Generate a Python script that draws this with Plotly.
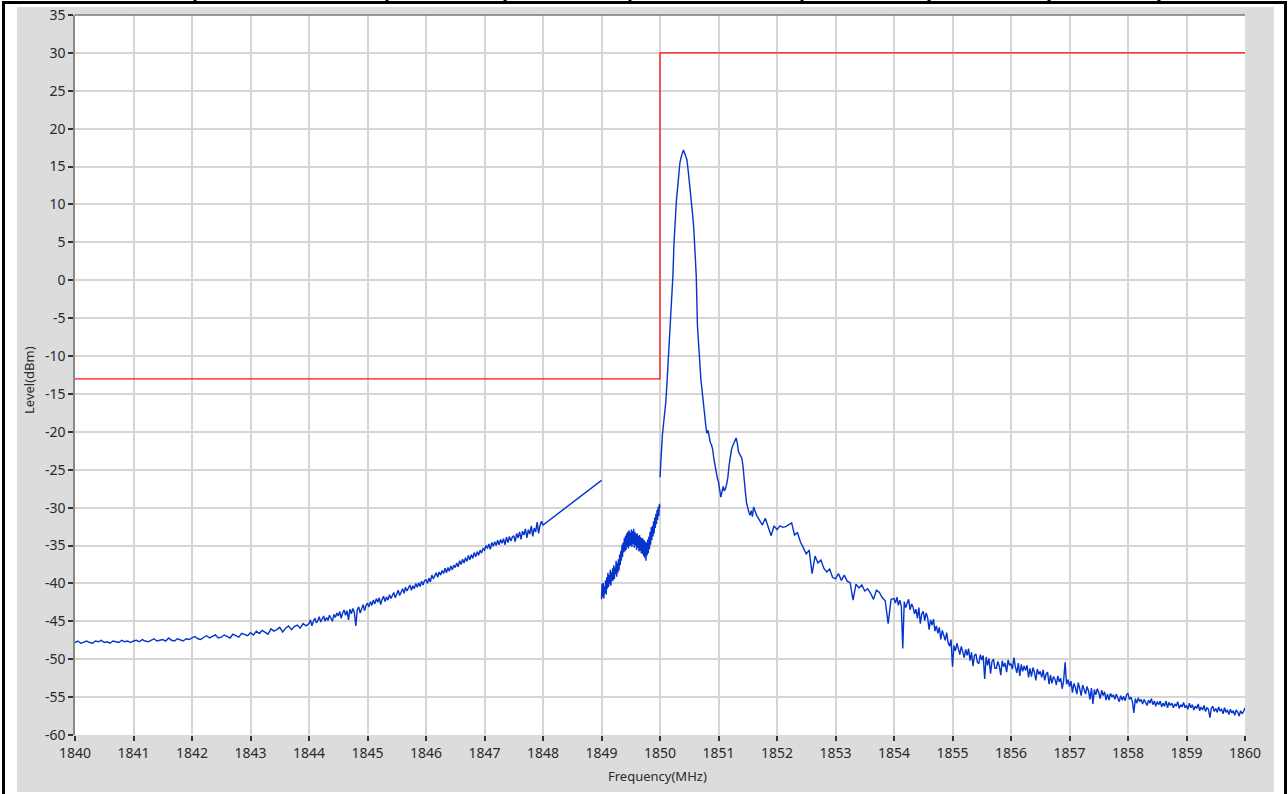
import numpy as np
import plotly.graph_objects as go

# ---------------- data ----------------
# limit mask (red)
limit_freq = [1840, 1850, 1850, 1860]
limit_level = [-13, -13, 30, 30]

# segment A1: 1840.00 .. 1843.95 (0.05 MHz step)
segA1_level = [
    -47.8, -47.6, -47.9, -47.7, -47.6, -47.8, -47.9, -47.6, -47.7, -47.5, -47.8, -47.7, -47.9, -47.6, -47.7, -47.8, -47.5, -47.7, -47.6, -47.8,
    -47.6, -47.5, -47.7, -47.4, -47.6, -47.7, -47.5, -47.3, -47.6, -47.5, -47.4, -47.6, -47.2, -47.5, -47.6, -47.3, -47.4, -47.6, -47.3, -47.4,
    -47.2, -47.0, -47.3, -47.4, -47.1, -46.9, -47.2, -47.0, -46.8, -47.2, -47.1, -46.8, -47.0, -47.2, -46.7, -46.9, -47.1, -46.6, -46.8, -46.9,
    -46.5, -46.8, -46.3, -46.6, -46.2, -46.5, -46.7, -46.0, -46.3, -46.1, -45.8, -46.4, -45.9, -45.6, -46.1, -45.7, -45.5, -45.9, -45.3, -45.6,
]
segA1_start, segA1_end = 1840.0, 1843.95

# segment A2: 1844.000 .. 1848.000 (0.025 MHz step)
segA2_level = [
    -45.3, -44.8, -45.6, -45.0, -44.6, -45.2, -44.9, -44.4, -45.1, -44.7, -44.3, -45.0, -44.5, -44.9, -44.2, -44.6, -45.0, -44.1, -44.5, -43.9,
    -44.3, -43.7, -44.6, -43.9, -43.5, -44.2, -43.6, -44.8, -43.4, -44.0, -43.3, -43.8, -45.6, -43.5, -43.1, -43.9, -43.3, -42.8, -43.6, -42.9,
    -42.6, -43.1, -42.4, -42.9, -42.2, -42.7, -42.0, -42.5, -41.9, -42.8, -42.1, -41.7, -42.4, -41.8, -42.2, -41.5, -42.0, -41.6, -41.2, -41.9,
    -41.3, -40.9, -41.6, -41.0, -40.7, -41.3, -40.5, -41.0, -40.6, -40.2, -40.9, -40.3, -40.7, -40.0, -40.5, -39.9, -40.4, -39.7, -40.2, -39.6,
    -39.5, -40.0, -39.3, -39.8, -38.9, -39.4, -39.0, -38.6, -39.2, -38.5, -38.9, -38.3, -38.7, -38.0, -38.6, -37.9, -38.4, -37.7, -38.2, -37.6,
    -37.9, -37.3, -37.8, -37.0, -37.5, -36.8, -37.3, -36.6, -37.1, -36.3, -36.9, -36.2, -36.7, -35.9, -36.5, -35.8, -36.3, -35.6, -36.0, -35.4,
    -35.6, -35.0, -35.4, -34.8, -35.5, -34.6, -35.1, -34.5, -35.0, -34.3, -34.9, -34.2, -34.7, -34.1, -34.9, -33.9, -34.6, -33.8, -34.4, -33.9,
    -33.7, -34.5, -33.4, -34.0, -33.2, -34.2, -33.1, -33.6, -32.8, -34.0, -32.9, -33.5, -32.4, -33.8, -32.7, -33.2, -31.9, -33.4, -32.3, -31.8,
    -32.3,
]
segA2_start, segA2_end = 1844.0, 1848.0

# straight piece that ends the first sweep
bridge_freq = [1849.0]
bridge_level = [-26.4]

# segment C: 1849.00 .. 1850.00 (0.01 MHz step), dense
segC_level = [
    -42.1, -40.0, -41.8, -39.9, -42.0, -40.4, -41.3, -39.6, -41.5, -39.2,
    -40.7, -38.6, -40.5, -38.9, -40.1, -38.2, -40.3, -38.5, -39.7, -38.0,
    -39.6, -37.6, -39.4, -37.9, -38.8, -37.0, -39.1, -37.3, -38.6, -36.8,
    -38.3, -36.2, -37.6, -35.7, -37.0, -34.9, -36.5, -34.6, -35.9, -34.0,
    -35.8, -33.7, -35.6, -33.4, -35.2, -33.2, -35.4, -33.0, -35.1, -33.3,
    -35.0, -32.9, -35.2, -33.1, -34.8, -32.8, -35.3, -33.2, -35.0, -33.4,
    -35.6, -33.4, -35.3, -33.7, -35.8, -33.6, -35.7, -33.9, -36.0, -34.0,
    -36.1, -34.1, -36.4, -34.3, -36.6, -34.5, -37.0, -34.6, -36.3, -34.2,
    -36.0, -33.8, -35.5, -33.2, -34.9, -32.6, -34.3, -32.4, -33.8, -31.8,
    -33.4, -31.3, -32.7, -30.8, -32.2, -30.3, -31.6, -29.9, -31.1, -29.5,
    -30.0,
]
segC_start, segC_end = 1849.0, 1850.0

# segment D1: 1850.00 .. 1851.60 (0.02 MHz step), carrier
segD1_level = [
    -26.0, -22.5, -20.5, -19.0, -17.5, -16.0, -13.5, -11.0, -8.0, -5.5,
    -2.0, 0.5, 5.0, 8.5, 10.5, 12.1, 14.3, 15.5, 16.2, 16.9,
    17.2, 16.8, 16.4, 15.9, 14.6, 13.2, 11.8, 10.2, 8.5, 6.5,
    3.5, 0.5, -6.0, -9.0, -11.5, -13.2, -14.6, -15.8, -17.5, -19.0,
    -20.2, -19.8, -20.9, -21.4, -21.7, -22.3, -23.5, -24.6, -25.3, -26.1,
    -26.6, -27.8, -28.6, -27.9, -27.2, -27.8, -27.5, -26.9, -26.0, -24.5,
    -23.1, -22.4, -21.9, -21.5, -21.1, -20.8, -21.4, -22.6, -22.9, -23.2,
    -23.5, -24.6, -25.9, -28.0, -29.4, -30.2, -30.6, -31.0, -30.4, -31.2,
    -29.9,
]
segD1_start, segD1_end = 1850.0, 1851.6

# segment D2a: 1851.65 .. 1853.95 (0.05 MHz step)
segD2a_level = [
    -31.0, -31.7, -32.3, -31.4, -32.6, -33.7, -32.4,
    -32.9, -32.4, -32.6, -32.5, -32.2, -32.0, -33.6, -33.3, -34.5, -35.4,
    -36.1, -35.6, -38.7, -36.4, -37.3, -36.9, -38.0, -38.5, -38.1, -39.2,
    -39.4, -38.7, -39.6, -38.9, -39.7, -39.9, -42.2, -40.1, -40.6, -40.2,
    -41.0, -40.7, -41.3, -42.1, -40.9, -41.2, -41.9, -42.3, -45.3, -42.1,
]
segD2a_start, segD2a_end = 1851.65, 1853.95

# segment D2b: 1854.000 .. 1860.000 (0.025 MHz step)
segD2b_level = [
    -42.0, -42.6, -41.8, -42.9, -42.2, -43.0, -48.6, -42.4, -43.2, -42.6,
    -42.1, -43.5, -42.7, -43.1, -44.0, -43.4, -44.6, -43.2, -45.3, -44.0,
    -43.7, -44.9, -43.9, -44.5, -46.1, -44.8, -45.5, -44.7, -46.3, -45.6,
    -46.6, -45.8, -47.4, -46.2, -46.9, -47.5, -46.5, -47.8, -48.3, -47.4,
    -51.0, -48.2, -48.9, -47.9, -48.6, -49.4, -48.3, -49.1, -49.8, -48.7,
    -49.5, -48.6, -50.2, -49.1, -50.9, -49.5, -49.3, -50.4, -50.6, -49.4,
    -50.1, -49.5, -52.6, -49.7, -50.8, -49.9, -51.9, -50.3, -50.0, -51.2,
    -51.2, -50.3, -50.9, -52.1, -50.2, -51.0, -50.5, -51.7, -50.1, -50.8,
    -50.6, -51.3, -49.8, -51.0, -51.8, -50.5, -52.2, -50.7, -51.6, -50.9,
    -51.5, -50.8, -52.4, -51.2, -52.3, -51.1, -51.7, -52.8, -51.3, -52.0,
    -51.6, -52.4, -51.4, -52.8, -52.0, -51.7, -53.3, -52.1, -53.2, -52.3,
    -52.6, -53.4, -52.2, -53.0, -52.5, -53.9, -52.8, -50.4, -53.3, -52.7,
    -53.6, -52.9, -54.4, -53.2, -53.7, -54.6, -53.1, -53.9, -54.8, -53.4,
    -53.9, -54.6, -53.6, -54.2, -55.3, -53.8, -55.9, -54.0, -54.7, -53.9,
    -54.4, -55.2, -54.1, -54.8, -54.3, -55.4, -54.6, -55.4, -54.5, -55.0,
    -54.7, -55.3, -54.6, -55.0, -55.6, -54.8, -55.4, -54.9, -55.5, -54.7,
    -54.5, -55.3, -55.0, -55.6, -57.1, -55.2, -55.8, -55.1, -55.6, -55.3,
    -55.9, -55.3, -55.7, -56.1, -55.4, -55.8, -55.2, -56.0, -55.5, -56.2,
    -55.6, -56.0, -55.5, -56.3, -55.8, -56.2, -55.5, -56.4, -55.7, -56.1,
    -55.8, -56.4, -55.9, -56.2, -55.6, -56.5, -56.0, -56.3, -55.7, -56.4,
    -56.1, -56.6, -55.8, -56.4, -56.0, -56.7, -56.2, -56.5, -55.9, -56.8,
    -56.3, -56.7, -56.1, -56.9, -56.4, -56.6, -57.7, -56.5, -56.2, -56.9,
    -56.5, -57.0, -56.3, -56.8, -56.6, -57.2, -56.4, -57.0, -56.7, -57.3,
    -56.6, -57.1, -56.8, -57.4, -56.7, -57.0, -57.5, -56.8, -57.2, -56.9,
    -56.4,
]
segD2b_start, segD2b_end = 1854.0, 1860.0

x_ticks = list(range(1840, 1861))
y_ticks = list(range(-60, 36, 5))
y_ticktext = [str(v) for v in y_ticks]  # hyphen-minus as in reference

# ---------------- figure ----------------
W, H = 1288, 794
ML, MR, MT, MB = 75, 43, 15, 59
PW, PH = W - ML - MR, H - MT - MB


def px(x):
    return (x - ML) / PW


def py(y):
    return (H - MB - y) / PH


def grid(start, end, values):
    return list(np.linspace(start, end, len(values)))


BLUE = "#0434cc"
RED = "#ff1010"

segA_freq = grid(segA1_start, segA1_end, segA1_level) + \
    grid(segA2_start, segA2_end, segA2_level) + bridge_freq
segA_all = segA1_level + segA2_level + bridge_level
segC_freq = grid(segC_start, segC_end, segC_level)
segD_freq = grid(segD1_start, segD1_end, segD1_level) + \
    grid(segD2a_start, segD2a_end, segD2a_level) + \
    grid(segD2b_start, segD2b_end, segD2b_level)
segD_all = segD1_level + segD2a_level + segD2b_level

fig = go.Figure()
fig.add_trace(go.Scatter(x=limit_freq, y=limit_level, mode="lines",
                         line=dict(color=RED, width=1.3), hoverinfo="skip"))
for fx, fy in [(segA_freq, segA_all), (segC_freq, segC_level), (segD_freq, segD_all)]:
    fig.add_trace(go.Scatter(x=fx, y=fy, mode="lines",
                             line=dict(color=BLUE, width=1.4), hoverinfo="skip"))

FONT = "Segoe UI, Noto Sans, Open Sans, sans-serif"
shapes = [
    # gray panel
    dict(type="rect", xref="paper", yref="paper", layer="below",
         x0=px(17), x1=px(1274), y0=py(792), y1=py(7),
         fillcolor="#dcdcdc", line=dict(width=0)),
    # white plot area
    dict(type="rect", xref="paper", yref="paper", layer="below",
         x0=0, x1=1, y0=0, y1=1, fillcolor="white", line=dict(width=0)),
    # top border of plot area
    dict(type="line", xref="paper", yref="paper", layer="above",
         x0=0, x1=1, y0=1, y1=1, line=dict(color="#7a7a7a", width=1.5)),
    # black outer frame
    dict(type="line", xref="paper", yref="paper", x0=px(3.5), x1=px(3.5),
         y0=py(800), y1=py(1.5), line=dict(color="black", width=3)),
    dict(type="line", xref="paper", yref="paper", x0=px(1285.5), x1=px(1285.5),
         y0=py(800), y1=py(1.5), line=dict(color="black", width=3)),
    dict(type="line", xref="paper", yref="paper", x0=px(2), x1=px(1287),
         y0=py(2.5), y1=py(2.5), line=dict(color="black", width=3)),
]
for sx in [195, 387, 505, 630, 802, 929, 1049, 1159]:
    shapes.append(dict(type="line", xref="paper", yref="paper",
                       x0=px(sx), x1=px(sx), y0=py(-2), y1=py(3),
                       line=dict(color="black", width=3)))

fig.update_layout(
    width=W, height=H, autosize=False,
    margin=dict(l=ML, r=MR, t=MT, b=MB, pad=0, autoexpand=False),
    paper_bgcolor="white", plot_bgcolor="white",
    showlegend=False,
    font=dict(family=FONT, size=13, color="#2a2a2a"),
    shapes=shapes,
    annotations=[
        dict(text="Frequency(MHz)", xref="paper", yref="paper",
             x=px(657), y=py(776), xanchor="center", yanchor="middle",
             showarrow=False, font=dict(family=FONT, size=13, color="#2a2a2a")),
        dict(text="Level(dBm)", xref="paper", yref="paper", textangle=-90,
             x=px(29), y=py(380), xanchor="center", yanchor="middle",
             showarrow=False, font=dict(family=FONT, size=13, color="#2a2a2a")),
    ],
)
fig.update_xaxes(range=[1840, 1860], tickmode="array", tickvals=x_ticks,
                 ticktext=[str(v) for v in x_ticks], automargin=False,
                 showgrid=True, gridcolor="#d6d6d6", gridwidth=1.5,
                 zeroline=False, showline=False,
                 ticks="outside", ticklen=5, tickwidth=1.5, tickcolor="#333",
                 tickfont=dict(family=FONT, size=14, color="#2a2a2a"))
fig.update_yaxes(range=[-60, 35], tickmode="array", tickvals=y_ticks,
                 ticktext=y_ticktext, automargin=False,
                 showgrid=True, gridcolor="#d6d6d6", gridwidth=1.5,
                 zeroline=False, showline=True, linecolor="#8a8a8a", linewidth=1.5,
                 ticks="outside", ticklen=5, tickwidth=1.5, tickcolor="#333",
                 tickfont=dict(family=FONT, size=14, color="#2a2a2a"))

fig.write_html(
    "out.html",
    config={"displayModeBar": False, "responsive": False},
    post_script="document.body.style.margin='0';document.body.style.padding='0';"
                "document.documentElement.style.overflow='hidden';",
)
